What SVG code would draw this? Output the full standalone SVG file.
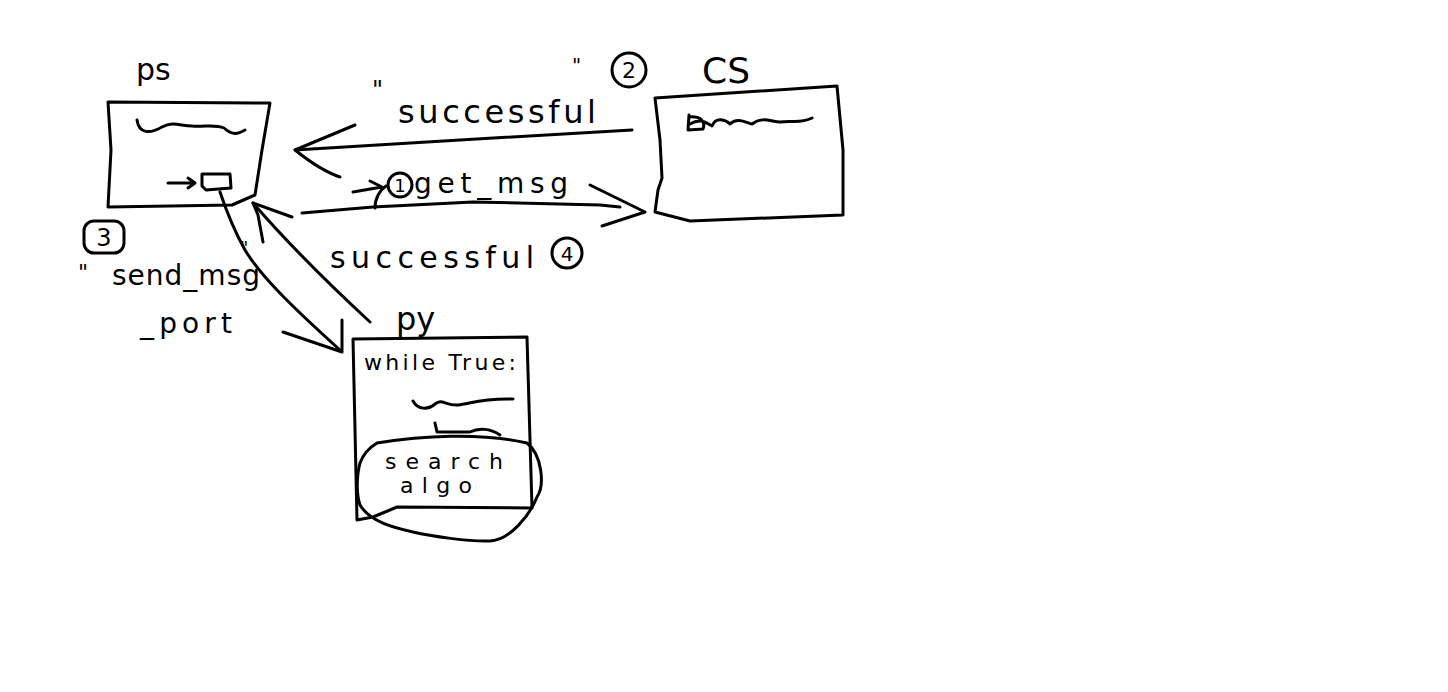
<svg xmlns="http://www.w3.org/2000/svg" width="1448" height="692" viewBox="0 0 1448 692">
<style>
.s{fill:none;stroke:#000;stroke-width:3;stroke-linecap:round;stroke-linejoin:round}
.t{font-family:"DejaVu Sans","Liberation Sans",sans-serif;fill:#000}
</style>
<rect width="1448" height="692" fill="#fff"/>
<g id="ps">
<path class="s" d="M108,102 L270,103 L262,150 L255,195 L232,205 L108,207 L111,150 Z"/>
<path class="s" d="M137,120 C139,134 150,134 162,127 C174,121 180,126 192,126 C205,127 215,124 224,128 C233,136 238,134 245,130"/>
<path class="s" d="M168,183 L195,183 M188,178 L195,183 L188,188"/>
<path class="s" d="M202,174 L230,174 L231,188 L206,190 L202,186 Z"/>
<text class="t" x="136" y="80" font-size="30">ps</text>
</g>
<g id="cs">
<path class="s" d="M655,98 L745,92 L837,86 L843,150 L843,215 L690,221 L655,212 L658,190 L662,178 L660,140 Z"/>
<path class="s" d="M689,115 L688,130 L703,129 C706,121 700,116 689,117 M690,124 C700,118 705,122 712,126 C716,116 726,120 730,124 C738,116 748,124 752,124 C762,116 772,122 780,122 C792,120 800,124 812,118"/>
<text class="t" x="702" y="83" font-size="36">CS</text>
</g>
<g id="py">
<path class="s" d="M353,339 L527,337 L532,508 L397,507 L373,517 L357,520 Z"/>
<path class="s" d="M413,401 C418,410 428,410 435,404 C442,398 446,406 458,405 C470,404 480,398 513,399"/>
<path class="s" d="M435,423 L437,432 L470,432 C478,428 490,428 500,435"/>
<path class="s" d="M377,443 C420,436 480,432 527,443 C542,455 545,485 537,497 C530,515 510,540 490,541 C470,542 430,536 413,532 C395,528 370,522 360,505 C355,490 358,470 360,463 C364,452 372,446 377,443"/>
<text class="t" x="396" y="330" font-size="32">py</text>
<text class="t" x="364" y="370" font-size="22" textLength="152" lengthAdjust="spacing">while True:</text>
<text class="t" x="385" y="469" font-size="22" textLength="118" lengthAdjust="spacing">search</text>
<text class="t" x="400" y="493" font-size="22" textLength="72" lengthAdjust="spacing">algo</text>
</g>
<g id="connectors">
<path class="s" d="M632,130 L460,140 L295,150"/>
<path class="s" d="M355,125 L295,150 C310,162 325,172 340,177"/>
<path class="s" d="M302,213 L373,207 L473,202 L600,205 L620,207"/>
<path class="s" d="M590,185 L645,212 L602,226"/>
<path class="s" d="M353,192 L382,187 M370,181 L382,187 M375,208 C375,198 380,190 386,186"/>
<path class="s" d="M220,192 C226,210 235,232 245,250 C260,275 290,305 340,350"/>
<path class="s" d="M342,320 L342,352 L283,332"/>
<path class="s" d="M253,203 C285,240 330,285 370,322"/>
<path class="s" d="M292,217 L253,203 L258,215 L263,242"/>
</g>
<g id="labels">
<circle class="s" cx="400" cy="185" r="12"/>
<text class="t" x="400" y="192" font-size="18" text-anchor="middle">1</text>
<circle class="s" cx="629" cy="70" r="17"/>
<text class="t" x="629" y="78" font-size="22" text-anchor="middle">2</text>
<rect class="s" x="84" y="221" width="40" height="32" rx="10"/>
<text class="t" x="104" y="246" font-size="24" text-anchor="middle">3</text>
<circle class="s" cx="567" cy="253" r="15"/>
<text class="t" x="567" y="261" font-size="20" text-anchor="middle">4</text>
<text class="t" x="372" y="98" font-size="24">"</text>
<text class="t" x="398" y="123" font-size="32" textLength="198" lengthAdjust="spacing">successful</text>
<text class="t" x="572" y="72" font-size="20">"</text>
<text class="t" x="414" y="193" font-size="28" textLength="154" lengthAdjust="spacing">get_msg</text>
<text class="t" x="330" y="268" font-size="30" textLength="204" lengthAdjust="spacing">successful</text>
<text class="t" x="78" y="280" font-size="22">"</text>
<text class="t" x="112" y="285" font-size="28" textLength="148" lengthAdjust="spacing">send_msg</text>
<text class="t" x="240" y="254" font-size="18">"</text>
<text class="t" x="140" y="333" font-size="28" textLength="92" lengthAdjust="spacing">_port</text>
</g>
</svg>
